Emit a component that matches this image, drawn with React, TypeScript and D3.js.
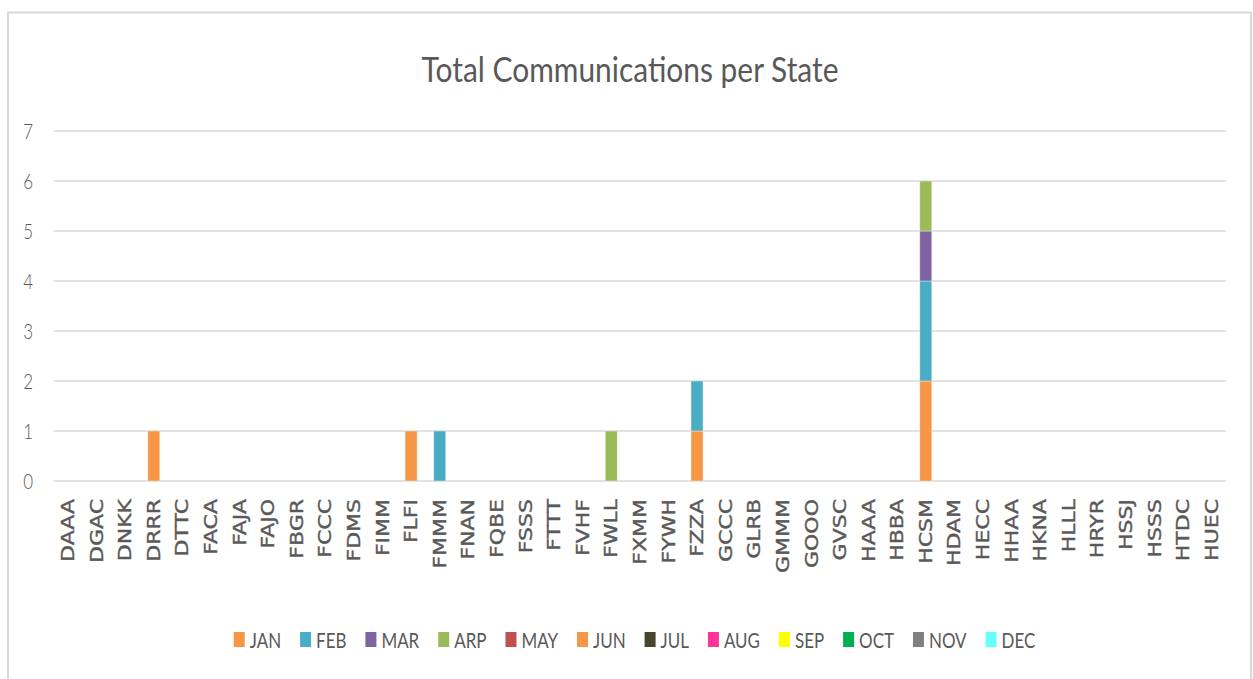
import React from "react";
import * as d3 from "d3";

const categories = [
  "DAAA", "DGAC", "DNKK", "DRRR", "DTTC", "FACA", "FAJA", "FAJO", "FBGR", "FCCC",
  "FDMS", "FIMM", "FLFI", "FMMM", "FNAN", "FQBE", "FSSS", "FTTT", "FVHF", "FWLL",
  "FXMM", "FYWH", "FZZA", "GCCC", "GLRB", "GMMM", "GOOO", "GVSC", "HAAA", "HBBA",
  "HCSM", "HDAM", "HECC", "HHAA", "HKNA", "HLLL", "HRYR", "HSSJ", "HSSS", "HTDC", "HUEC",
];

const months = ["JAN", "FEB", "MAR", "ARP", "MAY", "JUN", "JUL", "AUG", "SEP", "OCT", "NOV", "DEC"];
const monthColors = [
  "#F79646", "#4BACC6", "#8064A2", "#9BBB59", "#C0504D", "#F79646",
  "#4A452A", "#FF3399", "#FFFF00", "#00B050", "#808080", "#66FFFF",
];

//                 D  D  D  D  D  F  F  F  F  F  F  F  F  F  F  F  F  F  F  F  F  F  F  G  G  G  G  G  H  H  H  H  H  H  H  H  H  H  H  H  H
const janValues = [0, 0, 0, 1, 0, 0, 0, 0, 0, 0, 0, 0, 1, 0, 0, 0, 0, 0, 0, 0, 0, 0, 1, 0, 0, 0, 0, 0, 0, 0, 2, 0, 0, 0, 0, 0, 0, 0, 0, 0, 0];
const febValues = [0, 0, 0, 0, 0, 0, 0, 0, 0, 0, 0, 0, 0, 1, 0, 0, 0, 0, 0, 0, 0, 0, 1, 0, 0, 0, 0, 0, 0, 0, 2, 0, 0, 0, 0, 0, 0, 0, 0, 0, 0];
const marValues = [0, 0, 0, 0, 0, 0, 0, 0, 0, 0, 0, 0, 0, 0, 0, 0, 0, 0, 0, 0, 0, 0, 0, 0, 0, 0, 0, 0, 0, 0, 1, 0, 0, 0, 0, 0, 0, 0, 0, 0, 0];
const arpValues = [0, 0, 0, 0, 0, 0, 0, 0, 0, 0, 0, 0, 0, 0, 0, 0, 0, 0, 0, 1, 0, 0, 0, 0, 0, 0, 0, 0, 0, 0, 1, 0, 0, 0, 0, 0, 0, 0, 0, 0, 0];
const mayValues = [0, 0, 0, 0, 0, 0, 0, 0, 0, 0, 0, 0, 0, 0, 0, 0, 0, 0, 0, 0, 0, 0, 0, 0, 0, 0, 0, 0, 0, 0, 0, 0, 0, 0, 0, 0, 0, 0, 0, 0, 0];
const junValues = [0, 0, 0, 0, 0, 0, 0, 0, 0, 0, 0, 0, 0, 0, 0, 0, 0, 0, 0, 0, 0, 0, 0, 0, 0, 0, 0, 0, 0, 0, 0, 0, 0, 0, 0, 0, 0, 0, 0, 0, 0];
const julValues = [0, 0, 0, 0, 0, 0, 0, 0, 0, 0, 0, 0, 0, 0, 0, 0, 0, 0, 0, 0, 0, 0, 0, 0, 0, 0, 0, 0, 0, 0, 0, 0, 0, 0, 0, 0, 0, 0, 0, 0, 0];
const augValues = [0, 0, 0, 0, 0, 0, 0, 0, 0, 0, 0, 0, 0, 0, 0, 0, 0, 0, 0, 0, 0, 0, 0, 0, 0, 0, 0, 0, 0, 0, 0, 0, 0, 0, 0, 0, 0, 0, 0, 0, 0];
const sepValues = [0, 0, 0, 0, 0, 0, 0, 0, 0, 0, 0, 0, 0, 0, 0, 0, 0, 0, 0, 0, 0, 0, 0, 0, 0, 0, 0, 0, 0, 0, 0, 0, 0, 0, 0, 0, 0, 0, 0, 0, 0];
const octValues = [0, 0, 0, 0, 0, 0, 0, 0, 0, 0, 0, 0, 0, 0, 0, 0, 0, 0, 0, 0, 0, 0, 0, 0, 0, 0, 0, 0, 0, 0, 0, 0, 0, 0, 0, 0, 0, 0, 0, 0, 0];
const novValues = [0, 0, 0, 0, 0, 0, 0, 0, 0, 0, 0, 0, 0, 0, 0, 0, 0, 0, 0, 0, 0, 0, 0, 0, 0, 0, 0, 0, 0, 0, 0, 0, 0, 0, 0, 0, 0, 0, 0, 0, 0];
const decValues = [0, 0, 0, 0, 0, 0, 0, 0, 0, 0, 0, 0, 0, 0, 0, 0, 0, 0, 0, 0, 0, 0, 0, 0, 0, 0, 0, 0, 0, 0, 0, 0, 0, 0, 0, 0, 0, 0, 0, 0, 0];

const yTicks = [0, 1, 2, 3, 4, 5, 6, 7];
const chartTitle = "Total Communications per State";

const seriesValues = [
  janValues, febValues, marValues, arpValues, mayValues, junValues,
  julValues, augValues, sepValues, octValues, novValues, decValues,
];

const W = 1253;
const H = 679;
const SX = 0.77; // horizontal squeeze of the reference's text
const TEXT = "#595959";
const GRID = "#d9d9d9";

function measure(text: string, font: string): number {
  const c = document.createElement("canvas");
  const ctx = c.getContext("2d");
  if (!ctx) return text.length * 10;
  ctx.font = font;
  return ctx.measureText(text).width;
}

export default function App() {
  const x = d3.scaleBand<string>().domain(categories).range([53.7, 1226]).paddingInner(0.58).paddingOuter(0.29);
  const y = d3.scaleLinear().domain([0, 7]).range([481, 131]);

  const table = categories.map((c, i) => {
    const row: any = { cat: c };
    months.forEach((m, k) => (row[m] = seriesValues[k][i]));
    return row;
  });
  const stack = d3.stack<any>().keys(months)(table);

  // legend layout
  const legendFont = "22px Lato";
  const swW = 11;
  const swGap = 5;
  const itemGap = 19;
  const items = months.map((m) => ({ m, w: measure(m, legendFont) * SX }));
  const total = items.reduce((s, it) => s + swW + swGap + it.w, 0) + itemGap * (items.length - 1);
  let lx = 634.5 - total / 2;
  const legendItems = items.map((it, k) => {
    const pos = { ...it, x: lx, color: monthColors[k] };
    lx += swW + swGap + it.w + itemGap;
    return pos;
  });

  const [x0, x1] = x.range();

  return (
    <svg width={W} height={H} style={{ position: "absolute", left: 0, top: 0, background: "#fff" }}>
      <rect x={0} y={0} width={W} height={H} fill="#fff" />
      <rect x={8} y={12.5} width={1243} height={720} fill="#fff" stroke={GRID} strokeWidth={2} />

      <text
        x={421.5}
        y={81.5}
        textLength={417}
        lengthAdjust="spacingAndGlyphs"
        fontFamily="Lato"
        fontSize={34}
        fill={TEXT}
      >
        {chartTitle}
      </text>

      {yTicks.map((t) => (
        <g key={t}>
          <line x1={x0} x2={x1} y1={y(t)} y2={y(t)} stroke={GRID} strokeWidth={1.5} />
          <text
            transform={`translate(33, ${y(t)}) scale(${SX}, 1)`}
            textAnchor="end"
            dy="0.36em"
            fontFamily="Lato"
            fontWeight={300}
            fontSize={22}
            fill={TEXT}
          >
            {t}
          </text>
        </g>
      ))}

      {stack.map((s, k) =>
        s.map((d, i) =>
          d[1] - d[0] > 0 ? (
            <rect
              key={`${k}-${i}`}
              x={x(categories[i])}
              y={y(d[1])}
              width={x.bandwidth()}
              height={y(d[0]) - y(d[1])}
              fill={monthColors[k]}
              stroke="#ffffff"
              strokeOpacity={0.45}
              strokeWidth={0.8}
            />
          ) : null
        )
      )}

      {categories.map((c) => (
        <text
          key={c}
          transform={`translate(${(x(c) as number) + x.bandwidth() / 2}, 499) scale(${SX}, 1) rotate(-90)`}
          textAnchor="end"
          dy="0.36em"
          fontFamily="DejaVu Sans"
          fontSize={22}
          fill={TEXT}
          stroke={TEXT}
          strokeWidth={0.5}
        >
          {c}
        </text>
      ))}

      {legendItems.map((it) => (
        <g key={it.m}>
          <rect x={it.x} y={632} width={swW} height={15} fill={it.color} />
          <text
            transform={`translate(${it.x + swW + swGap}, 648) scale(${SX}, 1)`}
            fontFamily="Lato"
            fontSize={22}
            fill={TEXT}
          >
            {it.m}
          </text>
        </g>
      ))}
    </svg>
  );
}
